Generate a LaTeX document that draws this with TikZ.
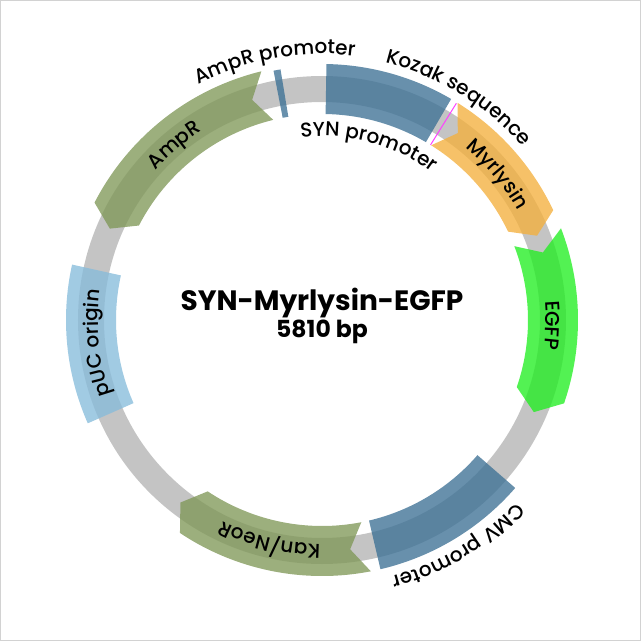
\documentclass[tikz,border=0pt]{standalone}
\usepackage{fontspec}
\setmainfont{Poppins}
\newfontfamily\medfam{Poppins Medium}
\usetikzlibrary{decorations.text}
\definecolor{backbone}{HTML}{C4C4C4}
\definecolor{promblue}{HTML}{3D7195}
\definecolor{olive}{HTML}{809858}
\definecolor{myrorange}{HTML}{F4B03D}
\definecolor{egfpgreen}{HTML}{22EE22}
\definecolor{orilight}{HTML}{87BCDB}
\definecolor{kozak}{HTML}{FF40FF}
\newcommand{\lblfont}{\medfam\fontsize{20}{23}\selectfont}

% curved label: centre angle (clockwise from top), baseline radius, text
\newcommand{\arclabel}[3]{%
  \path[decorate,decoration={text along path,text align=center,text={|\lblfont|#3}}]
    ({150-(#1)}:#2pt) arc[start angle={150-(#1)},end angle={30-(#1)},radius=#2pt];}

\begin{document}
\begin{tikzpicture}[
    feat/.style={
        fill opacity=0.78
    },
    ttl/.style={
        font=\bfseries\fontsize{28}{32}\selectfont,
        anchor=base
    },
    sub/.style={
        font=\bfseries\fontsize{23.5}{27}\selectfont,
        anchor=base
    }
]

\useasboundingbox (-322pt,-321pt) rectangle (319pt,320pt);
\draw[gray!35,line width=1pt] (-321.5pt,-320.5pt) rectangle (318.5pt,319.5pt);

% backbone
\draw[backbone,line width=26pt] (0,0) circle[radius=231pt];

% SYN promoter
\fill[feat,fill=promblue] (89:256pt) arc[start angle=89,end angle=59.7,radius=256pt]
    -- (59.7:206pt) arc[start angle=59.7,end angle=89,radius=206pt] -- cycle;

% Myrlysin
\fill[feat,fill=myrorange] (58:256pt) arc[start angle=58,end angle=25.4,radius=256pt]
    -- (21.4:231pt) -- (25.4:206pt) arc[start angle=25.4,end angle=58,radius=206pt]
    -- (54:231pt) -- cycle;

% EGFP
\fill[feat,fill=egfpgreen] (21:256pt) arc[start angle=21,end angle=-19,radius=256pt]
    -- (-23.5:231pt) -- (-19:206pt) arc[start angle=-19,end angle=21,radius=206pt]
    -- (17:231pt) -- cycle;

% CMV promoter
\fill[feat,fill=promblue] (-41:256pt) arc[start angle=-41,end angle=-76.8,radius=256pt]
    -- (-76.8:206pt) arc[start angle=-76.8,end angle=-41,radius=206pt] -- cycle;

% Kan/NeoR
\fill[feat,fill=olive] (-79:256pt) arc[start angle=-79,end angle=-123.7,radius=256pt]
    -- (-127.8:231pt) -- (-123.7:206pt) arc[start angle=-123.7,end angle=-79,radius=206pt]
    -- (-83:231pt) -- cycle;

% pUC origin
\fill[feat,fill=orilight] (-156.2:256pt) arc[start angle=-156.2,end angle=-192.5,radius=256pt]
    -- (-192.5:206pt) arc[start angle=-192.5,end angle=-156.2,radius=206pt] -- cycle;

% AmpR
\fill[feat,fill=olive] (103.7:256pt) arc[start angle=103.7,end angle=152.7,radius=256pt]
    -- (156.7:231pt) -- (152.7:206pt) arc[start angle=152.7,end angle=103.7,radius=206pt]
    -- (107.6:231pt) -- cycle;

% AmpR promoter
\fill[feat,fill=promblue] (101:254pt) arc[start angle=101,end angle=99.4,radius=254pt]
    -- (99.4:206pt) arc[start angle=99.4,end angle=101,radius=206pt] -- cycle;

% Kozak sequence
\draw[kozak,line width=1pt] (58.2:206pt) -- (58.2:255pt);

% labels
\arclabel{-10.3}{266}{AmpR promoter}
\arclabel{31.5}{265}{Kozak sequence}
\arclabel{15}{184}{SYN promoter}
\arclabel{149}{266}{CMV promoter}
\arclabel{-40.2}{224}{AmpR}
\arclabel{50.3}{224}{Myrlysin}
\arclabel{91.3}{224}{EGFP}
\arclabel{193.4}{224}{Kan/NeoR}
\arclabel{264.2}{224}{pUC origin}

\node[ttl] (title) at (0,10pt) {SYN-Myrlysin-EGFP};
\node[sub] (size) at (0,-17pt) {5810 bp};

\end{tikzpicture}
\end{document}
